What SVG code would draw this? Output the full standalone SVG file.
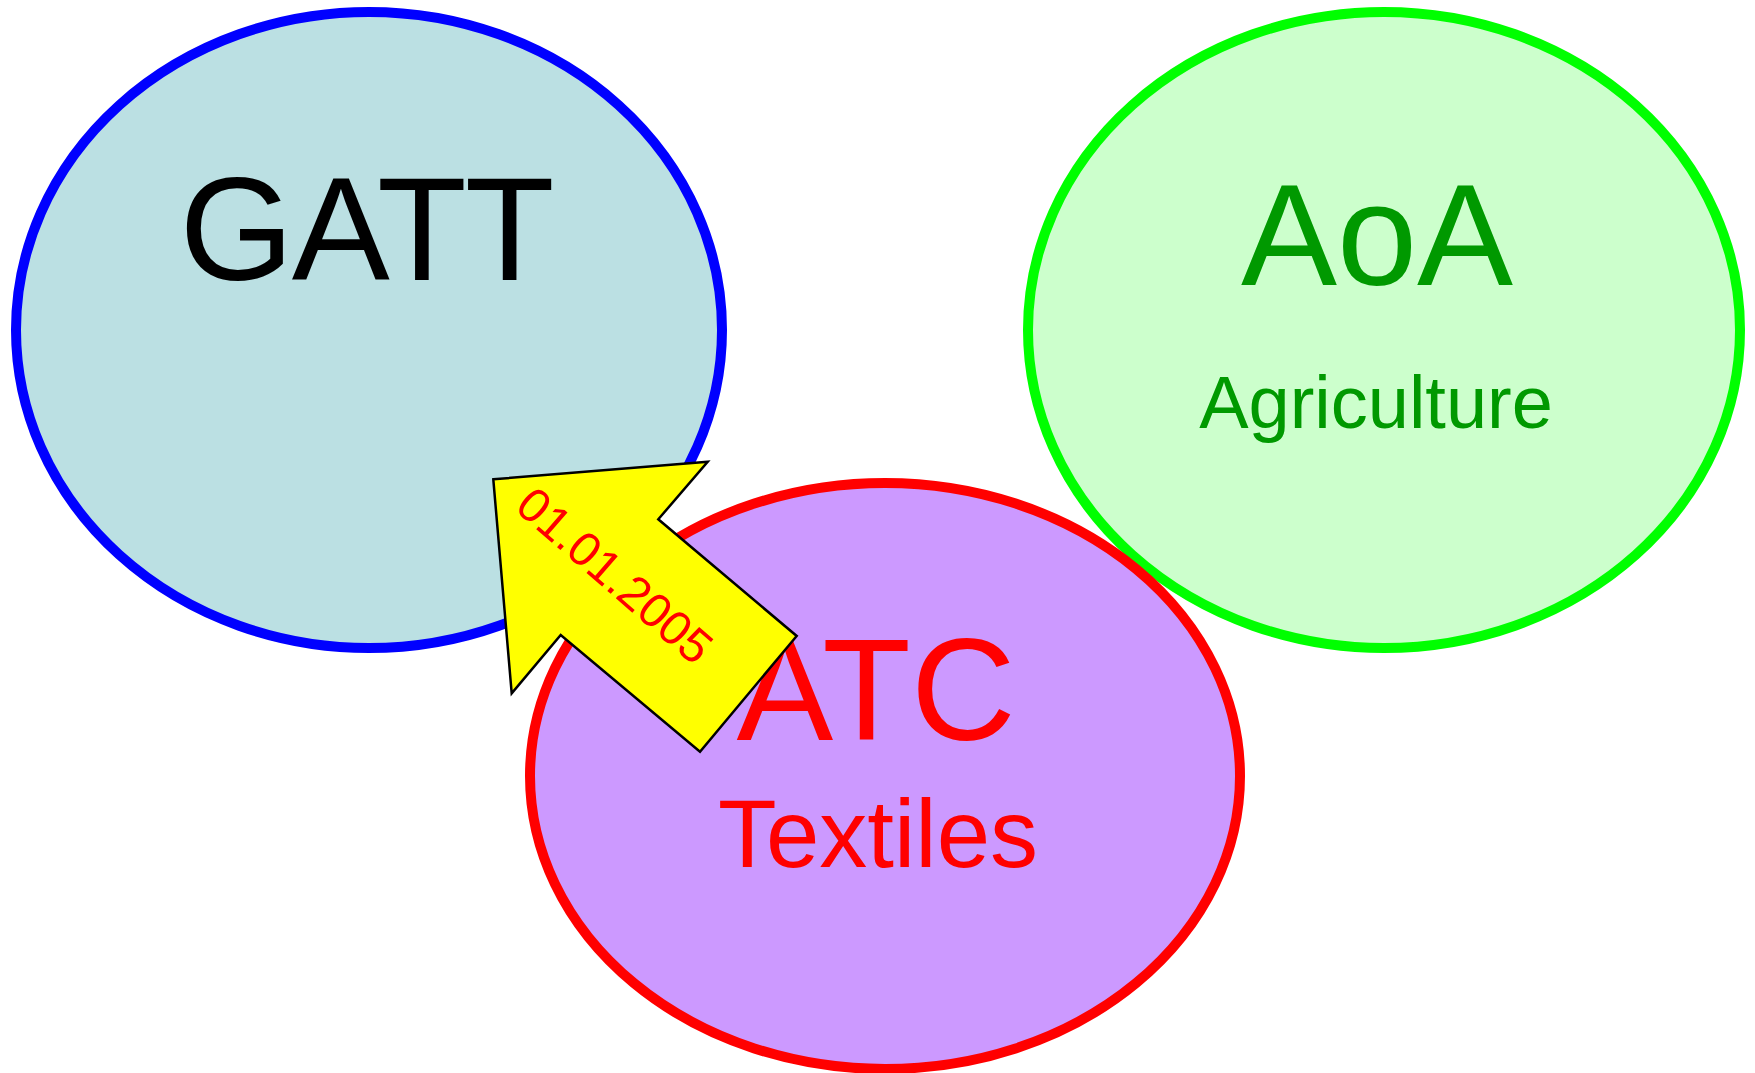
<svg xmlns="http://www.w3.org/2000/svg" width="1755" height="1073" viewBox="0 0 1755 1073">
<style>
  .lbl { font-family: "Liberation Sans", Arial, sans-serif; text-anchor: middle; }
  .node { stroke-width: 10; }
</style>
<rect width="1755" height="1073" fill="#ffffff"/>
<g id="gatt">
  <ellipse class="node" cx="369" cy="330" rx="353" ry="318" fill="#BBE0E3" stroke="#0000FF"/>
  <text class="lbl" x="366" y="280" font-size="147" letter-spacing="-2" fill="#000000">GATT</text>
</g>
<g id="aoa">
  <ellipse class="node" cx="1384" cy="330" rx="356" ry="318" fill="#CCFFCC" stroke="#00FF00"/>
  <text class="lbl" x="1377" y="285" font-size="144" fill="#009900">AoA</text>
  <text class="lbl" x="1376" y="428" font-size="74" fill="#009900">Agriculture</text>
</g>
<g id="atc">
  <ellipse class="node" cx="885" cy="776" rx="355" ry="293" fill="#CC99FF" stroke="#FF0000"/>
  <text class="lbl" x="876" y="740" font-size="145" fill="#FF0000">ATC</text>
  <text class="lbl" x="878" y="867" font-size="96" fill="#FF0000">Textiles</text>
</g>
<g id="connectors">
  <g id="arrow">
    <polygon points="493.3,479.3 707.7,461.7 658.3,519.3 796.7,636 700,751.7 560.7,635 511.7,693.3" fill="#FFFF00" stroke="#000000" stroke-width="2.5" stroke-linejoin="miter"/>
    <text class="lbl" transform="translate(604,588) rotate(41)" font-size="48" fill="#FF0000">01.01.2005</text>
  </g>
</g>
</svg>
